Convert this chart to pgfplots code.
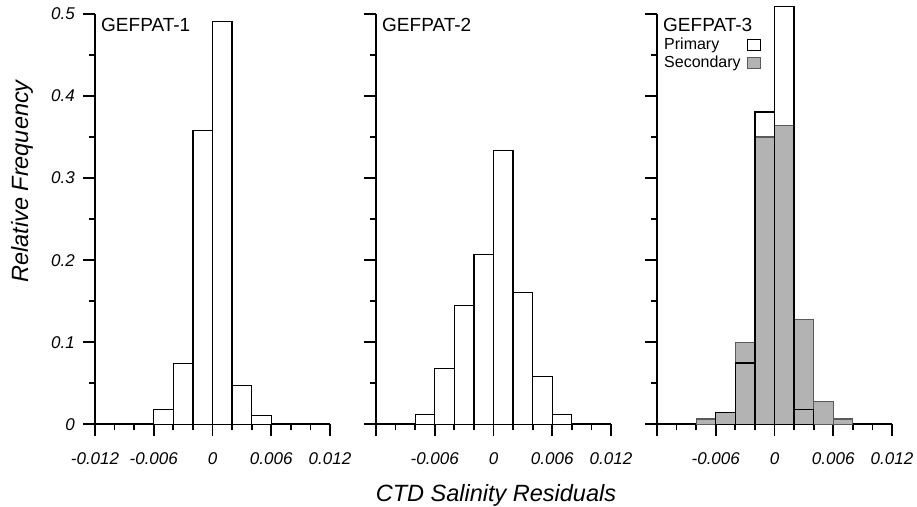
\documentclass[border=0pt]{standalone}
\usepackage{fontspec}
\setmainfont{Liberation Sans}
\usepackage{pgfplots}
\pgfplotsset{compat=1.18}

\definecolor{secfill}{RGB}{179,179,179}
\definecolor{secline}{RGB}{90,90,90}

\tikzset{tag/.style={anchor=base west, inner sep=0pt, font=\fontsize{19}{22}\selectfont}}

\pgfplotsset{
  gefpat/.style={
    scale only axis, width=235pt, height=410.3pt,
    xmin=-0.012, xmax=0.012, ymin=0, ymax=0.5,
    clip=false, scaled ticks=false,
    axis x line*=bottom, axis y line*=left,
    axis line style={line width=1.8pt},
    tick align=outside,
    major tick length=12pt, minor tick length=6pt,
    tick style={black, line width=1.8pt},
    xtick={-0.012,-0.006,0,0.006,0.012},
    minor xtick={-0.010,-0.008,-0.004,-0.002,0.002,0.004,0.008,0.010},
    ytick={0,0.1,0.2,0.3,0.4,0.5},
    minor ytick={0.05,0.15,0.25,0.35,0.45},
    ticklabel style={font=\fontsize{17}{20}\selectfont\itshape},
    xticklabel style={inner sep=0pt, yshift=-16pt},
    yticklabel style={inner sep=0pt, xshift=-8pt},
  },
  hbar/.style={ybar interval, fill=white, draw=black, line width=1.2pt},
  sbar/.style={ybar interval, fill=secfill, draw=secline, line width=1.2pt},
}

\begin{document}
\begin{tikzpicture}

% GEFPAT-1
\begin{axis}[gefpat, at={(95pt,81.7pt)}, anchor=south west,
  xticklabels={-0.012,-0.006,0,0.006,0.012},
  yticklabels={0,0.1,0.2,0.3,0.4,0.5}]
\addplot[hbar] coordinates {
  (-0.006,0.0183) (-0.004,0.074) (-0.002,0.358) (0,0.491)
  (0.002,0.0476) (0.004,0.0106) (0.006,0)
};
\node[tag, xshift=6pt, yshift=-17.3pt] at (rel axis cs:0,1) {GEFPAT-1};
\end{axis}

% GEFPAT-2
\begin{axis}[gefpat, at={(376pt,81.7pt)}, anchor=south west,
  xticklabels={,-0.006,0,0.006,0.012},
  yticklabels={,,,,,}]
\addplot[hbar] coordinates {
  (-0.008,0.0122) (-0.006,0.0679) (-0.004,0.1447) (-0.002,0.2069)
  (0,0.3337) (0.002,0.1606) (0.004,0.0581) (0.006,0.0122) (0.008,0)
};
\node[tag, xshift=6pt, yshift=-17.3pt] at (rel axis cs:0,1) {GEFPAT-2};
\end{axis}

% GEFPAT-3
\begin{axis}[gefpat, at={(657pt,81.7pt)}, anchor=south west,
  xticklabels={,-0.006,0,0.006,0.012},
  yticklabels={,,,,,},
  legend plot pos=right, legend cell align=left,
  legend image code/.code={\draw[#1] (0pt,-5.5pt) rectangle (13pt,5.5pt);},
  legend style={draw=none, fill=none, at={(rel axis cs:0,1)}, anchor=north west,
    xshift=5pt, yshift=-22pt, inner sep=0pt, row sep=1pt,
    font=\fontsize{16}{18}\selectfont,
    /tikz/every odd column/.append style={column sep=4pt}}]
\addplot[hbar] coordinates {
  (-0.006,0.0142) (-0.004,0.0748) (-0.002,0.3805) (0,0.509)
  (0.002,0.0179) (0.004,0)
};
\addlegendentry{Primary}
\addplot[sbar] coordinates {
  (-0.008,0.0065) (-0.006,0.0142) (-0.004,0.0992) (-0.002,0.350)
  (0,0.3638) (0.002,0.1276) (0.004,0.0276) (0.006,0.0065) (0.008,0)
};
\addlegendentry{Secondary}
\addplot[hbar, fill=none, forget plot] coordinates {
  (-0.006,0.0142) (-0.004,0.0748) (-0.002,0.3805) (0,0.509)
  (0.002,0.0179) (0.004,0)
};
\node[tag, xshift=6pt, yshift=-17.3pt] at (rel axis cs:0,1) {GEFPAT-3};
\end{axis}

\node[rotate=90, font=\fontsize{23.5}{26}\selectfont\itshape] at (22pt,324.5pt) {Relative Frequency};
\node[anchor=base, inner sep=0pt, font=\fontsize{23.5}{26}\selectfont\itshape] at (496pt,4.3pt) {CTD Salinity Residuals};

\pgfresetboundingbox
\path[use as bounding box] (0pt,0pt) rectangle (917pt,506pt);
\end{tikzpicture}
\end{document}
